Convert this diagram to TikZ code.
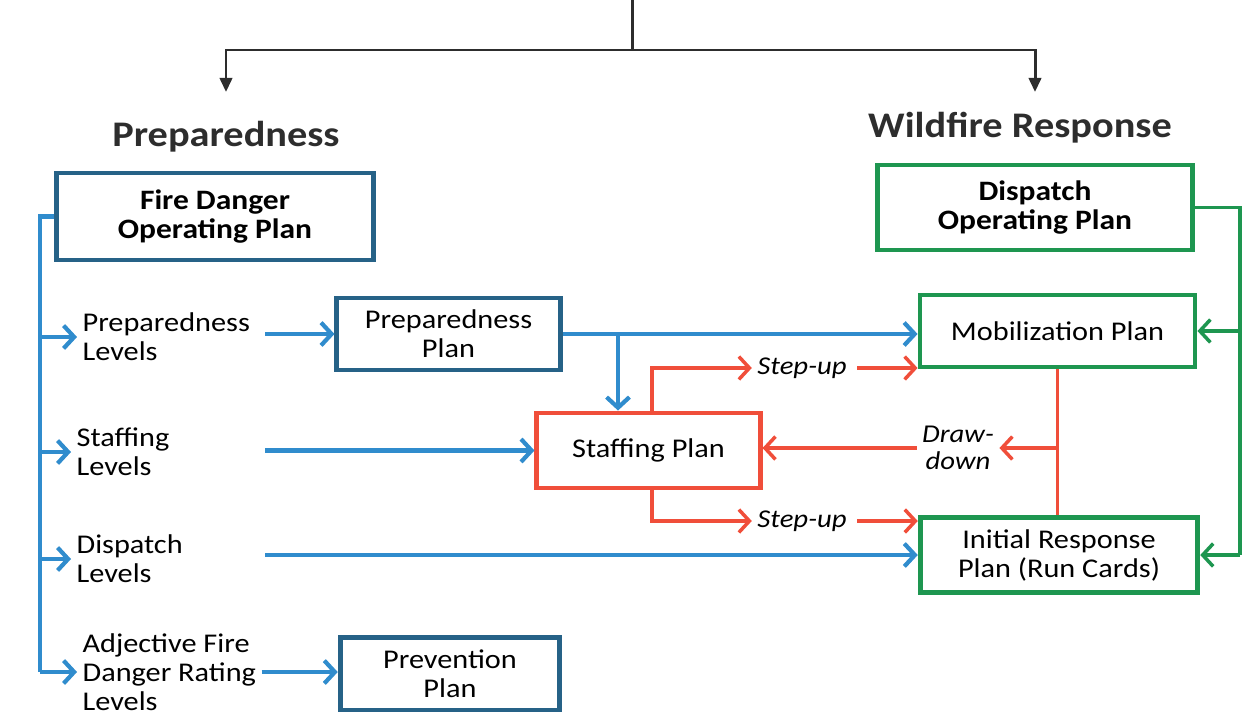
\documentclass[tikz,border=0pt]{standalone}
\usepackage{fontspec}
\setmainfont{Carlito}[FakeStretch=1.12]
\usetikzlibrary{arrows.meta}

\definecolor{boxblue}{RGB}{38,98,135}
\definecolor{lineblue}{RGB}{48,140,205}
\definecolor{planred}{RGB}{240,78,58}
\definecolor{plangreen}{RGB}{30,150,80}
\definecolor{topgray}{RGB}{45,45,45}

\begin{document}
\begin{tikzpicture}[x=0.02cm,y=-0.02cm,
		font=\fontsize{15.4}{16.5}\selectfont,
		plan/.style={draw=#1,line width=2.8pt,fill=white,inner sep=2pt,align=center},
		lvl/.style={anchor=west,align=left,inner sep=3pt},
		tag/.style={font=\fontsize{14.6}{15.5}\selectfont\itshape,align=center,inner sep=3pt},
		title/.style={font=\fontsize{20.5}{22}\selectfont\bfseries,text=topgray},
		topline/.style={draw=topgray,line width=1.7pt},
		toparrow/.style={topline,-{Triangle[length=8pt,width=7pt]}},
		bline/.style={draw=lineblue,line width=2.4pt},
		barrow/.style={bline,-{Straight Barb[length=6pt,width=13pt]}},
		rline/.style={draw=planred,line width=2pt},
		rarrow/.style={rline,-{Straight Barb[length=6pt,width=13pt]}},
		gline/.style={draw=plangreen,line width=2pt},
		garrow/.style={gline,-{Straight Barb[length=6pt,width=13pt]}}]
	\useasboundingbox (0,0) rectangle (1251,717);

	% headings and the feed from above
	\node[title] (preptitle) at (226,137) {Preparedness};
	\node[title] (wrtitle) at (1020,128) {Wildfire Response};
	\coordinate (feed) at (632,0);
	\coordinate (fork) at (632,50);
	\coordinate (prepin) at (226,92);
	\coordinate (wrin) at (1035,92);
	\draw[topline] (feed) -- (fork);
	\draw[toparrow] (fork) -| (prepin);
	\draw[toparrow] (fork) -| (wrin);

	% plans
	\node[plan=boxblue,minimum width=180pt,minimum height=49.5pt,font=\fontsize{16}{17}\selectfont\bfseries] (fdop) at (215,216.5) {Fire Danger\\Operating Plan};
	\node[plan=boxblue,minimum width=127pt,minimum height=41pt] (prepplan) at (448.5,334) {Preparedness\\Plan};
	\node[plan=boxblue,minimum width=125pt,minimum height=41.5pt] (prevplan) at (450,673.5) {Prevention\\Plan};
	\node[plan=planred,minimum width=127pt,minimum height=42.7pt] (staffplan) at (648.5,450.5) {Staffing Plan};
	\node[plan=plangreen,minimum width=179pt,minimum height=48.4pt,font=\fontsize{16}{17}\selectfont\bfseries] (dop) at (1035,207.5) {Dispatch\\Operating Plan};
	\node[plan=plangreen,minimum width=156.5pt,minimum height=41pt] (mobplan) at (1057.5,331) {Mobilization Plan};
	\node[plan=plangreen,minimum width=158pt,minimum height=43pt] (irplan) at (1059,555) {Initial Response\\Plan (Run Cards)};

	% levels
	\node[lvl] (preplvl) at (77,337) {Preparedness\\Levels};
	\node[lvl] (stafflvl) at (71,452) {Staffing\\Levels};
	\node[lvl] (displvl) at (71,559) {Dispatch\\Levels};
	\node[lvl] (adjlvl) at (77,672) {Adjective Fire\\Danger Rating\\Levels};

	% step-up / draw-down tags
	\node[tag] (su1) at (802,368) {Step-up};
	\node[tag] (su2) at (802,521) {Step-up};
	\node[tag] (dd) at (958,448) {Draw-\\down};

	% blue: fire danger side
	\coordinate (spine) at (40,0);
	\coordinate (lvlout) at (265,0);
	\coordinate (pb) at (618,0);
	\draw[bline] (fdop.west) -| (spine |- adjlvl.west);
	\foreach \n in {preplvl,stafflvl,displvl,adjlvl}
		\draw[barrow] (spine |- \n.west) -- (\n.west);
	\draw[barrow] (lvlout |- prepplan.west) -- (prepplan.west);
	\draw[barrow] (lvlout |- staffplan.west) -- (staffplan.west);
	\draw[barrow] (lvlout |- irplan.west) -- (irplan.west);
	\draw[barrow] (adjlvl.east) -- (prevplan.west |- adjlvl.east);
	\draw[barrow] (prepplan.east) -- (mobplan.west |- prepplan.east);
	\draw[barrow] (pb |- prepplan.east) -- (pb |- staffplan.north);

	% red: staffing step-up and draw-down
	\coordinate (rx) at (652,0);
	\draw[rarrow] (staffplan.north -| rx) |- (su1.west);
	\draw[rarrow] (staffplan.south -| rx) |- (su2.west);
	\draw[rarrow,shorten <=3pt] (su1.east) -- (mobplan.west |- su1.east);
	\draw[rarrow,shorten <=3pt] (su2.east) -- (irplan.west |- su2.east);
	\draw[rline] (mobplan.south) -- (mobplan.south |- irplan.north);
	\draw[rarrow] (mobplan.south |- dd.east) -- (dd.east);
	\draw[rarrow] (dd.west) -- (staffplan.east |- dd.west);

	% green: dispatch side
	\coordinate (gspine) at (1240,0);
	\draw[gline] (dop.east) -| (gspine |- irplan.east);
	\draw[garrow] (gspine |- mobplan.east) -- (mobplan.east);
	\draw[garrow] (gspine |- irplan.east) -- (irplan.east);
\end{tikzpicture}
\end{document}
